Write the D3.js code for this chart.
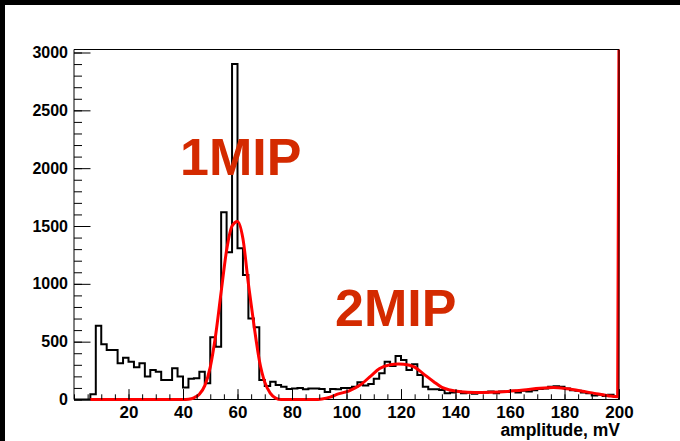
<!DOCTYPE html>
<html><head><meta charset="utf-8">
<script src="https://cdn.jsdelivr.net/npm/d3@7"></script>
<style>html,body{margin:0;padding:0;background:#fff;overflow:hidden}</style>
</head><body><svg id="c" width="680" height="441"></svg>
<script>
// ---- data ----
const binLow0 = 0, binWidth = 2, nBins = 100;
const counts = [
  0, 0, 0, 45, 638, 477, 428, 428, 313, 362,      // 0-20
  327, 278, 313, 198, 256, 241, 169, 169, 270, 198, // 20-40
  103, 180, 184, 240, 140, 538, 457, 1619, 1273, 2901, // 40-60
  1307, 1076, 700, 625, 169, 117, 154, 125, 110, 90,   // 60-80
  95, 100, 88, 95, 95, 90, 65, 90, 88, 100,        // 80-100
  100, 110, 150, 120, 135, 180, 226, 327, 290, 376, // 100-120
  341, 255, 304, 212, 111, 88, 88, 82, 54, 60,     // 120-140
  70, 55, 60, 50, 65, 60, 70, 55, 70, 65,          // 140-160
  75, 60, 75, 70, 80, 90, 95, 110, 115, 110,       // 160-180
  95, 80, 75, 60, 55, 35, 40, 30, 40, 25           // 180-200
];
const fitX = [6, 40, 42, 44, 46, 48, 50, 52, 54, 56, 58, 60, 62, 64, 66, 68, 70, 72, 74, 76, 88, 91, 94, 97, 101, 105, 109, 112, 116, 119, 121, 125, 128, 132, 135, 138, 142, 147, 153, 159, 165, 171, 176, 181, 186, 191, 196, 199.5, 200];
const fitY = [0, 0, 3, 15, 45, 120, 280, 560, 930, 1290, 1500, 1540, 1390, 1000, 650, 340, 150, 55, 12, 0, 0, 5, 20, 48, 75, 125, 205, 265, 300, 307, 305, 280, 226, 154, 105, 82, 66, 60, 63, 70, 82, 97, 103, 92, 74, 53, 33, 24, 3200];
const yTicksMajor = [0, 500, 1000, 1500, 2000, 2500, 3000];
const xTicksMajor = [20, 40, 60, 80, 100, 120, 140, 160, 180, 200];
const peakLabels = ["1MIP", "2MIP"];
const xTitle = "amplitude, mV";

// ---- layout ----
const svg = d3.select("#c");
const X0 = 74, X1 = 619, Y0 = 399.5, Y1 = 49.5;
const x = d3.scaleLinear().domain([0, 200]).range([X0, X1]);
const y = d3.scaleLinear().domain([0, 3026]).range([Y0, Y1]);
const font = "'Liberation Sans', Arial, Helvetica, sans-serif";

svg.append("rect").attr("x",0).attr("y",0).attr("width",680).attr("height",441).attr("fill","#fff");
svg.append("rect").attr("x",0).attr("y",0).attr("width",680).attr("height",5).attr("fill","#000");
svg.append("rect").attr("x",0).attr("y",0).attr("width",5).attr("height",441).attr("fill","#000");

svg.append("clipPath").attr("id","clip").append("rect")
  .attr("x", X0).attr("y", Y1).attr("width", X1 - X0 + 1).attr("height", Y0 - Y1 + 2);

// histogram outline
const pts = [[binLow0, 0]];
counts.forEach((c, i) => {
  const lo = binLow0 + i * binWidth;
  pts.push([lo, c]); pts.push([lo + binWidth, c]);
});
pts.push([binLow0 + nBins * binWidth, 0]);
svg.append("path")
  .attr("clip-path","url(#clip)")
  .attr("d", d3.line().x(d => x(d[0])).y(d => y(d[1]))(pts))
  .attr("fill","none").attr("stroke","#000").attr("stroke-width",2)
  .attr("stroke-linejoin","miter");

// fit curve
svg.append("path")
  .attr("clip-path","url(#clip)")
  .attr("d", d3.line().x((d,i) => x(fitX[i])).y((d,i) => y(fitY[i])).curve(d3.curveMonotoneX)(fitX))
  .attr("fill","none").attr("stroke","#ff0000").attr("stroke-width",3);

// axes
const yMinor = d3.range(0, 3001, 100);
const xMinor = d3.range(0, 201, 5);
const gy = svg.append("g").attr("transform",`translate(${X0},0)`)
  .call(d3.axisLeft(y).tickValues(yMinor).tickSizeInner(-8).tickSizeOuter(0).tickFormat(""));
const gy2 = svg.append("g").attr("transform",`translate(${X0},0)`)
  .call(d3.axisLeft(y).tickValues(yTicksMajor).tickSizeInner(-16.5).tickSizeOuter(0).tickPadding(6).tickFormat(d3.format("d")));
const gx = svg.append("g").attr("transform",`translate(0,${Y0})`)
  .call(d3.axisBottom(x).tickValues(xMinor).tickSizeInner(-5.2).tickSizeOuter(0).tickFormat(""));
const gx2 = svg.append("g").attr("transform",`translate(0,${Y0})`)
  .call(d3.axisBottom(x).tickValues(xTicksMajor).tickSizeInner(-10.4).tickSizeOuter(0).tickPadding(6).tickFormat(d3.format("d")));
[gy, gy2, gx, gx2].forEach(g => {
  g.select(".domain").remove();
  g.selectAll("line").attr("stroke","#000").attr("stroke-width",1);
  g.selectAll("text").attr("font-family", font).attr("font-weight","bold").attr("fill","#000");
});
gy2.selectAll("text").attr("font-size", 16);
gx2.selectAll("text").attr("font-size", 17);

// frame (left, top, right); bottom drawn beneath the fit baseline
svg.append("path")
  .attr("d", `M${X0},${Y0}V${Y1}H${X1}V${Y0}`)
  .attr("fill","none").attr("stroke","#000").attr("stroke-width",1);
svg.insert("line", "path")
  .attr("x1", X0).attr("x2", X1).attr("y1", Y0).attr("y2", Y0)
  .attr("stroke","#000").attr("stroke-width",1);

// x title
svg.append("text").attr("x", X1 + 1).attr("y", 436).attr("text-anchor","end")
  .attr("font-family", font).attr("font-weight","bold").attr("font-size", 17.5).text(xTitle);

// peak labels
const labelPos = [[180, 175], [335, 326]];
peakLabels.forEach((t, i) => {
  svg.append("text").attr("x", labelPos[i][0]).attr("y", labelPos[i][1])
    .attr("font-family", font).attr("font-weight","bold").attr("font-size", 52)
    .attr("fill","#d42a00").text(t);
});
</script></body></html>
